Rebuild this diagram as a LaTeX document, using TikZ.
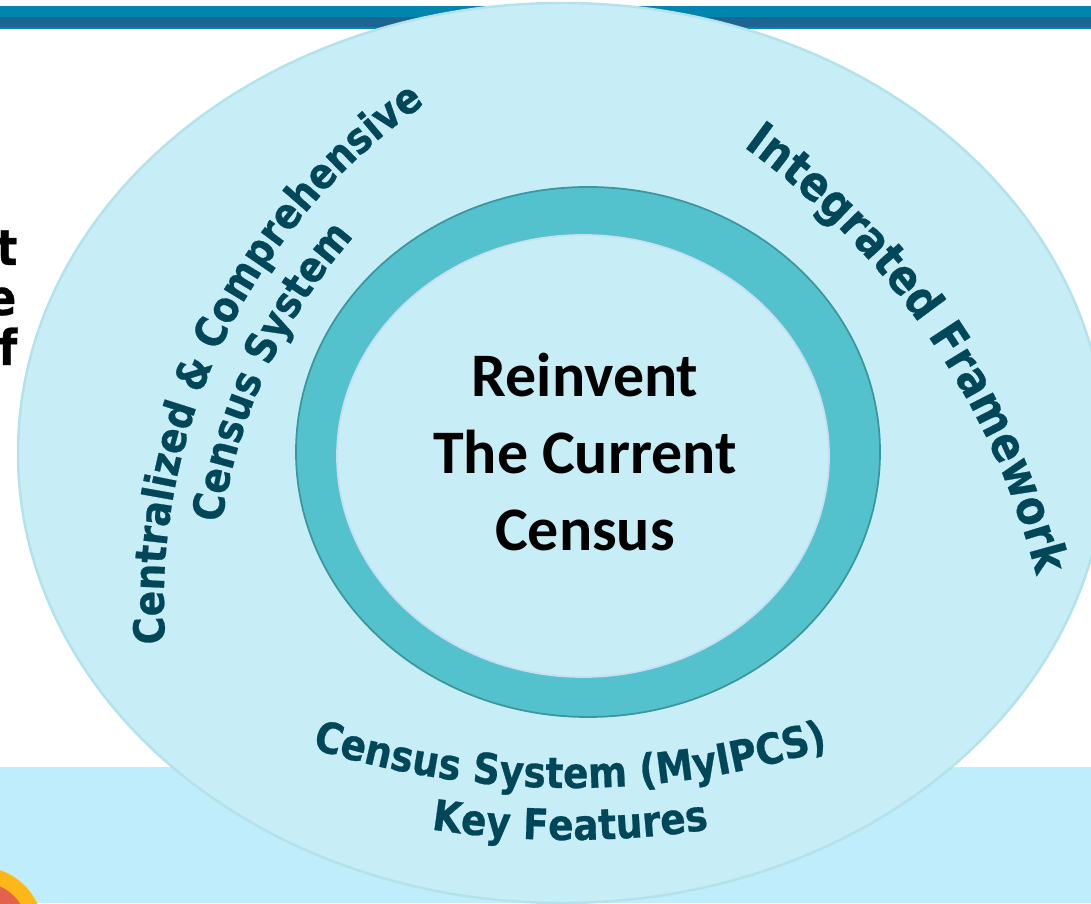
\documentclass[tikz,border=0pt]{standalone}
\usepackage{fontspec}
\setmainfont{Carlito}
\newfontfamily\arcfont[FakeStretch=0.88, BoldFeatures={FakeBold=0.6}]{DejaVu Sans}
\usetikzlibrary{decorations.text}
\definecolor{barlight}{RGB}{0,133,176}
\definecolor{bardark}{RGB}{27,101,144}
\definecolor{bandblue}{RGB}{191,237,251}
\definecolor{outerfill}{RGB}{199,237,246}
\definecolor{outeredge}{RGB}{180,226,234}
\definecolor{ringfill}{RGB}{83,194,205}
\definecolor{ringedge}{RGB}{60,150,158}
\definecolor{coreedge}{RGB}{200,222,242}
\definecolor{labelteal}{RGB}{0,71,90}
\definecolor{sunorange}{RGB}{253,183,22}
\definecolor{sunred}{RGB}{226,98,76}
\newcommand{\arcbig}{\arcfont\bfseries\fontsize{13.5}{16}\selectfont}
\newcommand{\arcsmall}{\arcfont\bfseries\fontsize{12.1}{14}\selectfont}
\tikzset{
  arclabel/.style={decorate, decoration={text along path, text align=center, text color=labelteal, text={#1}}},
  cutword/.style={anchor=base east, inner sep=0pt, font=\arcfont\bfseries\fontsize{14}{14}\selectfont}
}

\begin{document}
\begin{tikzpicture}[x=0.01cm, y=0.01cm]
    \useasboundingbox (0,0) rectangle (1091,903);
    \clip (0,0) rectangle (1091,903);

    % slide bits behind the circles
    \fill[barlight] (0,874) rectangle (1091,897);
    \fill[bardark] (0,876) rectangle (1091,886);
    \fill[bandblue] (0,0) rectangle (1091,136);
    \fill[sunorange] (-20,-27) circle [radius=63];
    \fill[sunred] (-20,-27) circle [radius=48];
    \node[cutword] (cutt) at (18,638) {t};
    \node[cutword] (cute) at (17,588) {e};
    \node[cutword] (cutf) at (18,538) {of};

    % circles
    \filldraw[fill=outerfill, draw=outeredge, line width=0.7pt] (562,450) ellipse [x radius=544, y radius=450];
    \filldraw[fill=ringfill, draw=ringedge, line width=0.5pt] (588,451) ellipse [x radius=292, y radius=265];
    \filldraw[fill=outerfill, draw=coreedge, line width=0.5pt] (583,447) ellipse [x radius=246, y radius=221];
    \node[font=\bfseries\fontsize{17.6}{21.9}\selectfont, align=center] (core) at (585,451) {Reinvent\\The Current\\Census};

    % curved labels
    \coordinate (leftc) at (771,300);
    \coordinate (rightc) at (300,139);
    \coordinate (lowc) at (570,976);
    \path[arclabel={|\arcsmall|Centralized {\&} Comprehensive}] ([shift={(leftc)}]199.3:607) arc [start angle=199.3, end angle=109.3, radius=607];
    \path[arclabel={|\arcsmall|Census System}] ([shift={(leftc)}]200.2:555) arc [start angle=200.2, end angle=110.2, radius=555];
    \path[arclabel={|\arcbig|Integrated Framework}] ([shift={(rightc)}]69.35:760) arc [start angle=69.35, end angle=-0.65, radius=760];
    \path[arclabel={|\arcsmall|Census System (MyIPCS)}] ([shift={(lowc)}]245:861) arc [start angle=245, end angle=295, radius=861];
    \path[arclabel={|\arcsmall|Key Features}] ([shift={(lowc)}]245:913) arc [start angle=245, end angle=295, radius=913];
\end{tikzpicture}
\end{document}
